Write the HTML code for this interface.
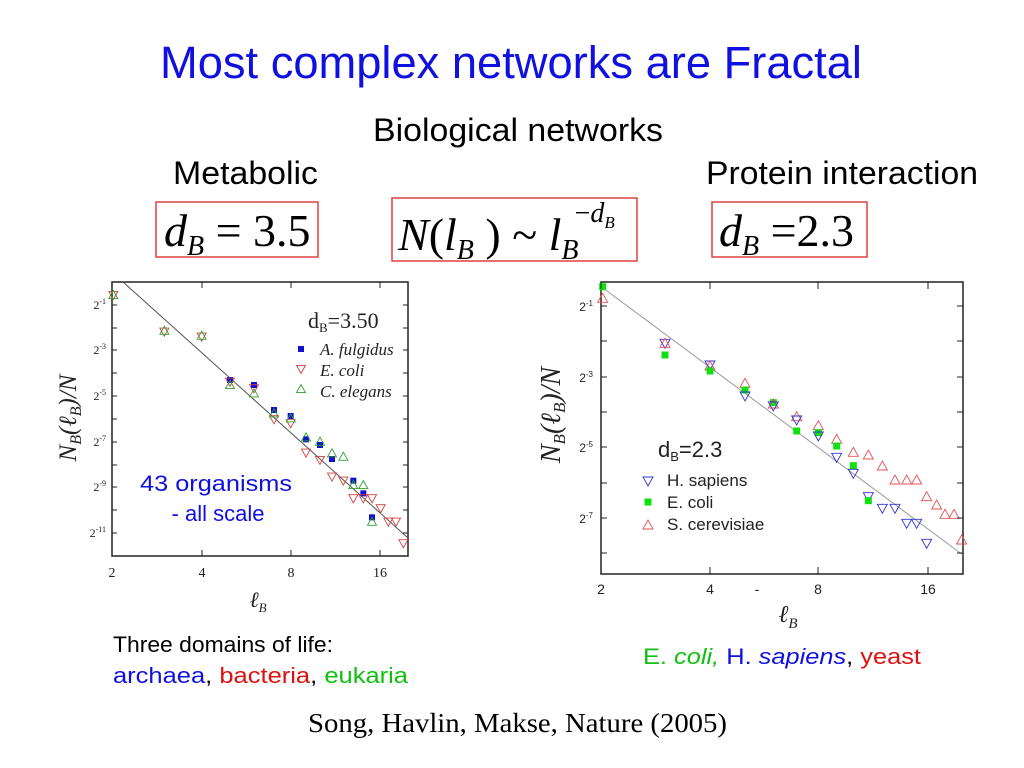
<!DOCTYPE html>
<html><head><meta charset="utf-8"><style>
html,body{margin:0;padding:0;background:#fff;width:1024px;height:768px;overflow:hidden}
svg{display:block}
</style></head><body>
<svg id="s" width="1024" height="768" viewBox="0 0 1024 768" xmlns="http://www.w3.org/2000/svg" font-family="Liberation Sans, sans-serif">
<text x="160" y="78" font-size="45" fill="#1010e0" textLength="702" lengthAdjust="spacingAndGlyphs">Most complex networks are Fractal</text>
<text x="373" y="141" font-size="32" fill="#000" textLength="290" lengthAdjust="spacingAndGlyphs">Biological networks</text>
<text x="173" y="184" font-size="32" fill="#000" textLength="145" lengthAdjust="spacingAndGlyphs">Metabolic</text>
<text x="706" y="184" font-size="32" fill="#000" textLength="272" lengthAdjust="spacingAndGlyphs">Protein interaction</text>
<rect x="156" y="202" width="162" height="55" fill="none" stroke="#e04040" stroke-width="1.5"/>
<rect x="392" y="198" width="245" height="63" fill="none" stroke="#e04040" stroke-width="1.5"/>
<rect x="712" y="202" width="155" height="55" fill="none" stroke="#e04040" stroke-width="1.5"/>
<g font-family="Liberation Serif, serif" fill="#000">
<text x="164" y="246" font-size="46"><tspan font-style="italic">d</tspan><tspan font-size="28" font-style="italic" dy="9">B</tspan><tspan dy="-9"> = 3.5</tspan></text>
<text x="398" y="250" font-size="46"><tspan font-style="italic">N</tspan>(<tspan font-style="italic">l</tspan><tspan font-size="28" font-style="italic" dy="9">B</tspan><tspan dy="-9"> ) ~ </tspan><tspan font-style="italic">l</tspan><tspan font-size="28" font-style="italic" dy="9">B</tspan><tspan font-size="28" dy="-37" dx="-4">−</tspan><tspan font-size="28" font-style="italic">d</tspan><tspan font-size="17" font-style="italic" dy="6">B</tspan></text>
<text x="719" y="246" font-size="46"><tspan font-style="italic">d</tspan><tspan font-size="28" font-style="italic" dy="9">B</tspan><tspan dy="-9"> =2.3</tspan></text>
</g>

<g id="L">
<rect x="112" y="282" width="296" height="274" fill="none" stroke="#222" stroke-width="1.5"/>
<line x1="123" y1="282" x2="408" y2="538" stroke="#555" stroke-width="1"/>
<g font-family="Liberation Serif, serif" font-size="14" fill="#222" text-anchor="middle">
<text x="112" y="577">2</text><text x="202" y="577">4</text><text x="291" y="577">8</text><text x="380" y="577">16</text>
</g>
<g font-family="Liberation Serif, serif" font-size="12" fill="#222" text-anchor="end">
<text x="106" y="309">2<tspan font-size="8" dy="-5">-1</tspan></text>
<text x="106" y="354">2<tspan font-size="8" dy="-5">-3</tspan></text>
<text x="106" y="400">2<tspan font-size="8" dy="-5">-5</tspan></text>
<text x="106" y="446">2<tspan font-size="8" dy="-5">-7</tspan></text>
<text x="106" y="491">2<tspan font-size="8" dy="-5">-9</tspan></text>
<text x="106" y="537">2<tspan font-size="8" dy="-5">-11</tspan></text>
</g>
<text transform="translate(76,418) rotate(-90)" text-anchor="middle" font-family="Liberation Serif, serif" font-style="italic" font-size="25" fill="#222">N<tspan font-size="16" dy="5">B</tspan><tspan dy="-5">(ℓ</tspan><tspan font-size="16" dy="5">B</tspan><tspan dy="-5">)/N</tspan></text>
<text x="258" y="607" font-family="Liberation Serif, serif" font-style="italic" font-size="22" fill="#222" text-anchor="middle">ℓ<tspan font-size="13" dy="5">B</tspan></text>
<text x="308" y="328" font-family="Liberation Serif, serif" font-size="22" fill="#222">d<tspan font-size="13" dy="4">B</tspan><tspan dy="-4">=3.50</tspan></text>
<g font-family="Liberation Serif, serif" font-style="italic" font-size="17" fill="#222">
<text x="320" y="355">A. fulgidus</text><text x="320" y="376">E. coli</text><text x="320" y="397">C. elegans</text>
</g>
<text x="216" y="491" text-anchor="middle" font-size="22" fill="#1010e0" textLength="152" lengthAdjust="spacingAndGlyphs">43 organisms</text>
<text x="218" y="521" text-anchor="middle" font-size="22" fill="#1010e0">- all scale</text>
</g>

<g id="R">
<rect x="601" y="282" width="362" height="292" fill="none" stroke="#222" stroke-width="1.5"/>
<line x1="603" y1="288" x2="963" y2="555" stroke="#999" stroke-width="1"/>
<g font-size="14" fill="#222" text-anchor="middle">
<text x="601" y="594">2</text><text x="710" y="594">4</text><text x="757" y="594">-</text><text x="818" y="594">8</text><text x="928" y="594">16</text>
</g>
<g font-size="12" fill="#222" text-anchor="end">
<text x="593" y="311">2<tspan font-size="8" dy="-5">-1</tspan></text>
<text x="593" y="382">2<tspan font-size="8" dy="-5">-3</tspan></text>
<text x="593" y="452">2<tspan font-size="8" dy="-5">-5</tspan></text>
<text x="593" y="523">2<tspan font-size="8" dy="-5">-7</tspan></text>
</g>
<text transform="translate(560,415) rotate(-90)" text-anchor="middle" font-family="Liberation Serif, serif" font-style="italic" font-size="28" fill="#222">N<tspan font-size="17" dy="5">B</tspan><tspan dy="-5">(ℓ</tspan><tspan font-size="17" dy="5">B</tspan><tspan dy="-5">)/N</tspan></text>
<text x="788" y="622" font-family="Liberation Serif, serif" font-style="italic" font-size="24" fill="#222" text-anchor="middle">ℓ<tspan font-size="15" dy="6">B</tspan></text>
<text x="658" y="457" font-size="22" fill="#222">d<tspan font-size="13" dy="4">B</tspan><tspan dy="-4">=2.3</tspan></text>
<g font-size="17" fill="#222">
<text x="667" y="486">H. sapiens</text><text x="667" y="508">E. coli</text><text x="667" y="530">S. cerevisiae</text>
</g>
</g>

<text x="113" y="652" font-size="22" fill="#000" textLength="220" lengthAdjust="spacingAndGlyphs">Three domains of life:</text>
<text x="113" y="683" font-size="22" textLength="295" lengthAdjust="spacingAndGlyphs"><tspan fill="#1010e0">archaea</tspan><tspan fill="#000">, </tspan><tspan fill="#e01010">bacteria</tspan><tspan fill="#000">, </tspan><tspan fill="#10c010">eukaria</tspan></text>
<text x="643" y="664" font-size="22" textLength="278" lengthAdjust="spacingAndGlyphs"><tspan fill="#10c010">E. </tspan><tspan fill="#10c010" font-style="italic">coli,</tspan><tspan fill="#1010e0"> H. </tspan><tspan fill="#1010e0" font-style="italic">sapiens</tspan><tspan fill="#000">, </tspan><tspan fill="#e01010">yeast</tspan></text>
<text x="308" y="732" font-family="Liberation Serif, serif" font-size="27" fill="#000" textLength="419" lengthAdjust="spacingAndGlyphs">Song, Havlin, Makse, Nature  (2005)</text>
</svg>
<script>
var NS="http://www.w3.org/2000/svg",s=document.getElementById("s");
function el(t,a){var e=document.createElementNS(NS,t);for(var k in a)e.setAttribute(k,a[k]);s.appendChild(e);}
function sq(x,y,r,c){el("rect",{x:x-r,y:y-r,width:2*r,height:2*r,fill:c});}
function up(x,y,r,c){el("polygon",{points:(x-r)+","+(y+r*0.8)+" "+(x+r)+","+(y+r*0.8)+" "+x+","+(y-r),fill:"none",stroke:c,"stroke-width":0.9});}
function dn(x,y,r,c){el("polygon",{points:(x-r)+","+(y-r*0.8)+" "+(x+r)+","+(y-r*0.8)+" "+x+","+(y+r),fill:"none",stroke:c,"stroke-width":0.9});}
var B="#1010d0",R="#d04040",G="#30a030";
function L(zx,zy,t){var x=50+zx/3,y=280+zy/3;if(t=="b")sq(x,y,3,B);else if(t=="r")dn(x,y,4.5,R);else up(x,y,4.5,G);}
[[190,45,"r"],[190,45,"g"],[343,155,"r"],[343,152,"g"],[455,170,"r"],[455,167,"g"],
[540,300,"b"],[540,305,"r"],[540,315,"g"],[612,315,"b"],[612,325,"r"],[612,340,"g"],
[672,390,"b"],[672,418,"r"],[672,400,"g"],[722,408,"b"],[722,430,"r"],[722,415,"g"],
[768,478,"b"],[768,518,"r"],[768,472,"g"],[810,495,"b"],[810,540,"r"],[810,485,"g"],
[846,537,"b"],[846,590,"r"],[846,520,"g"],[880,602,"r"],[880,530,"g"],
[910,602,"b"],[910,655,"r"],[910,615,"g"],[940,640,"b"],[940,655,"r"],[940,615,"g"],
[966,712,"b"],[966,655,"r"],[966,725,"g"],[992,685,"r"],[1015,725,"r"],[1038,725,"r"],[1060,790,"r"]
].forEach(function(p){L(p[0],p[1],p[2]);});
sq(301,349,3,B);dn(301,369,4.5,R);up(301,389,4.5,G);
var B2="#3030d0",G2="#10e010",R2="#e05050";
function Rr(zx,zy,t){var x=530+zx/3,y=280+zy/3;if(t=="g")sq(x,y,3.5,G2);else if(t=="b")dn(x,y,5,B2);else up(x,y,5,R2);}
[[218,20,"g"],[218,55,"r"],[405,190,"b"],[405,190,"r"],[405,225,"g"],[540,255,"b"],[540,258,"r"],[540,273,"g"],
[645,310,"r"],[645,330,"g"],[645,348,"b"],[730,368,"g"],[730,372,"r"],[730,378,"b"],
[800,410,"r"],[800,420,"b"],[800,453,"g"],[865,437,"r"],[865,458,"g"],[865,468,"b"],
[920,478,"r"],[920,498,"g"],[920,532,"b"],[970,517,"r"],[970,557,"g"],[970,580,"b"],
[1015,525,"r"],[1015,650,"b"],[1015,662,"g"],[1057,558,"r"],[1057,685,"b"],[1095,600,"r"],[1095,685,"b"],
[1130,600,"r"],[1130,730,"b"],[1160,600,"r"],[1160,730,"b"],[1190,650,"r"],[1190,790,"b"],
[1220,675,"r"],[1245,703,"r"],[1272,703,"r"],[1295,780,"r"]
].forEach(function(p){Rr(p[0],p[1],p[2]);});
dn(648,481,5,B2);sq(648,502,3.5,G2);up(648,525,5,R2);
function tk(x1,y1,x2,y2){el("line",{x1:x1,y1:y1,x2:x2,y2:y2,stroke:"#222","stroke-width":1});}
[305,328,350,373,396,419,442,465,487,510,533].forEach(function(y){tk(112,y,117,y);tk(408,y,403,y);});
[112,202,291,380].forEach(function(x){tk(x,556,x,550);tk(x,282,x,288);});
[306,341,377,412,447,483,518,553].forEach(function(y){tk(601,y,607,y);tk(963,y,957,y);});
[601,710,818,928].forEach(function(x){tk(x,574,x,567);tk(x,282,x,289);});
</script>
</body></html>
